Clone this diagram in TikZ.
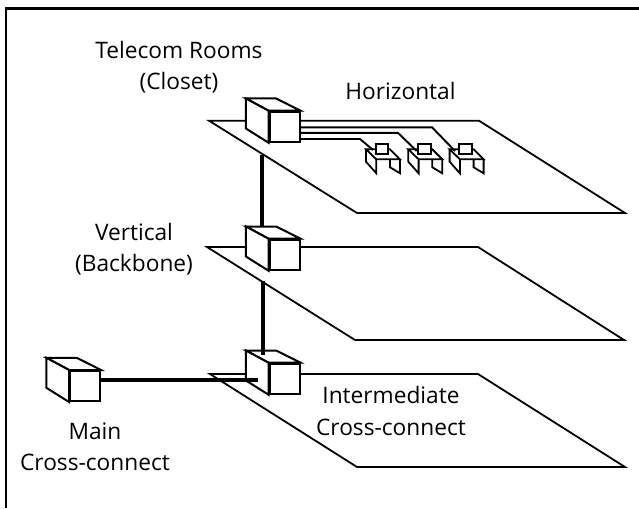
\documentclass[tikz,border=0pt]{standalone}
\usepackage{fontspec}
\setmainfont{Open Sans}
\usetikzlibrary{positioning}

\begin{document}
\begin{tikzpicture}[x=1pt,y=-1pt,line join=miter]
  \tikzset{
    frameline/.style={line width=2.5pt},
    floorplate/.style={draw, line width=1.8pt},
    cubeface/.style={draw, fill=white, line width=2pt},
    cubefront/.style={cubeface, rectangle, minimum size=30pt, inner sep=0pt},
    wire/.style={line width=1.9pt},
    backbone/.style={line width=4pt},
    desk/.style={line width=1.8pt},
    label/.style={align=center, font=\fontsize{22.7}{31.5}\selectfont, inner sep=0pt}
  }
  \newcommand{\cubesides}[1]{
    \filldraw[cubeface] (#1.north west) -- ++(-22.6,-12.2) -- ++(30.3,0) -- (#1.north east) -- cycle;
    \filldraw[cubeface] (#1.north west) -- ++(-22.6,-12.2) -- ++(0,30) -- (#1.south west) -- cycle;
  }
  \newcommand{\deskat}[2]{
    \begin{scope}[shift={(#1,#2)}, desk]
      \draw (0,0) -- (10.3,10) -- (34,10) -- (24,0) -- cycle;
      \draw (0,0) -- (0,12.4) -- (10.3,24) -- (10.3,10);
      \draw (24,10) -- (24,18) -- (34,24) -- (34,10);
      \filldraw[fill=white] (9.7,-5.3) rectangle (22.3,4.7);
    \end{scope}
  }
  \useasboundingbox (0,0) rectangle (639,508);
  % frame
  \coordinate (fa) at (6.2,508);
  \coordinate (fb) at (6.2,8.7);
  \coordinate (fc) at (639,8.7);
  \draw[frameline] (fa) -- (fb) -- (fc);

  % floors
  \draw[floorplate] (209,120.7) -- (479,120.7) -- (625,213) -- (357,213) -- cycle;
  \draw[floorplate] (207,247) -- (478,247) -- (624,340) -- (355,340) -- cycle;
  \draw[floorplate] (210,374) -- (478,374) -- (625,467) -- (357,467) -- cycle;

  % cubes
  \node[cubefront] (closet) at (284.5,126.7) {};
  \node[cubefront] (riser) [below=96pt of closet] {};
  \node[cubefront] (ic) at (284.5,378.7) {};
  \node[cubefront] (mc) at (85,386) {};
  \cubesides{closet}
  \cubesides{riser}
  \cubesides{ic}
  \cubesides{mc}

  % cables
  \coordinate (bb1) at (262,155);
  \coordinate (bb2) at (262,227);
  \coordinate (bb3) at (263,281);
  \coordinate (bb4) at (263,354.5);
  \coordinate (mcend) at (258,380);
  \draw[backbone] (bb1) -- (bb2);
  \draw[backbone] (bb3) -- (bb4);
  \draw[backbone] (mc.east |- mcend) -- (mcend);

  % desks
  \deskat{366}{149.3}
  \deskat{408.3}{149.3}
  \deskat{449.6}{149.3}

  % horizontal cabling
  \draw[wire] (closet.east |- 0,127.3) -- (432,127.3) -- (455,151);
  \draw[wire] (closet.east |- 0,132.9) -- (398,132.9) -- (416.7,151);
  \draw[wire] (closet.east |- 0,139) -- (360,139) -- (373,150);

  % labels
  \node[label] (telecom) at (179,67) {Telecom Rooms\\(Closet)};
  \node[label] (horiz) at (400.5,91) {Horizontal};
  \node[label] (vert) at (134,249) {Vertical\\(Backbone)};
  \node[label] (main) at (95,447) {Main\\Cross-connect};
  \node[label] (inter) at (391,411) {Intermediate\\Cross-connect};
\end{tikzpicture}
\end{document}
